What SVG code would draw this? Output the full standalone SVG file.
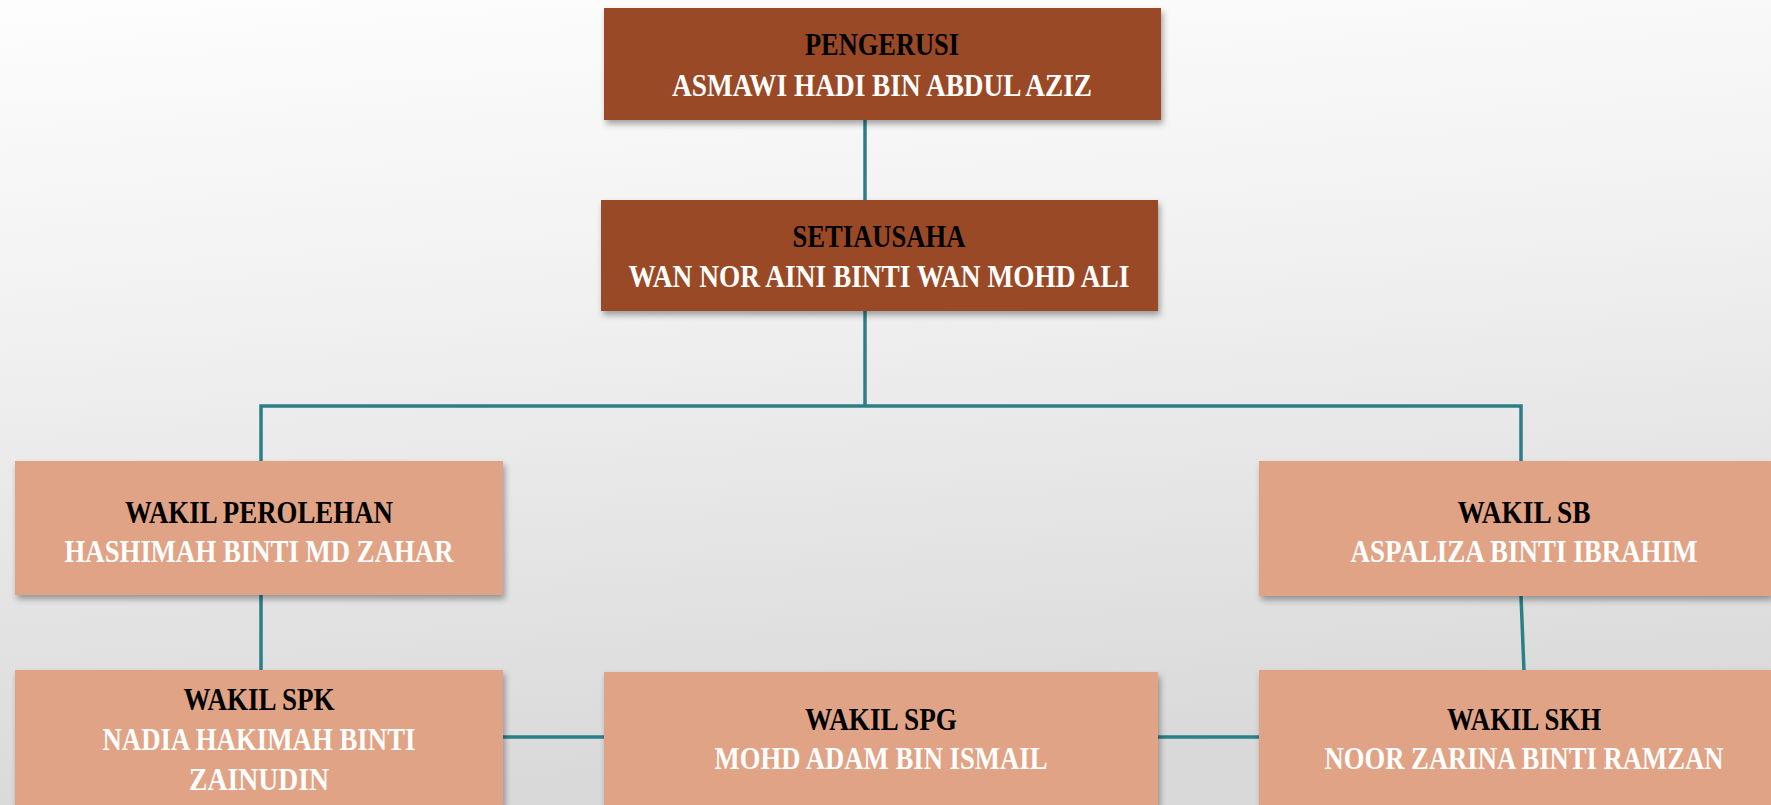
<svg xmlns="http://www.w3.org/2000/svg" width="1771" height="805" viewBox="0 0 1771 805">
  <defs>
    <linearGradient id="bg" x1="0" y1="0" x2="0.15" y2="1">
      <stop offset="0" stop-color="#fdfdfd"/>
      <stop offset="0.4" stop-color="#f1f1f1"/>
      <stop offset="1" stop-color="#d9d9d9"/>
    </linearGradient>
    <filter id="shadow" x="-10%" y="-20%" width="120%" height="150%">
      <feDropShadow dx="2" dy="4" stdDeviation="3" flood-color="#000" flood-opacity="0.35"/>
    </filter>
  </defs>
  <style>
    .dark { fill: #9a4a25; filter: url(#shadow); }
    .light { fill: #e1a385; filter: url(#shadow); }
    .conn { stroke: #2b7f87; stroke-width: 3.5; fill: none; }
    .t { font-family: "Liberation Serif", "Times New Roman", serif; font-weight: bold; font-size: 32px; text-anchor: middle; }
    .title { fill: #000; }
    .name { fill: #fff; }
  </style>
  <rect x="0" y="0" width="1771" height="805" fill="url(#bg)"/>

  <g id="connectors">
    <line class="conn" x1="865" y1="120" x2="865" y2="200"/>
    <line class="conn" x1="865" y1="311" x2="865" y2="406"/>
    <polyline class="conn" points="261,462 261,406 1521,406 1521,462"/>
    <line class="conn" x1="261" y1="595" x2="261" y2="671"/>
    <line class="conn" x1="1521" y1="596" x2="1524" y2="671"/>
    <line class="conn" x1="503" y1="737" x2="604" y2="737"/>
    <line class="conn" x1="1158" y1="737" x2="1260" y2="737"/>
  </g>

  <g id="pengerusi">
    <rect class="dark" x="604" y="8" width="557" height="112"/>
    <text class="t title" x="882" y="55" textLength="154" lengthAdjust="spacingAndGlyphs">PENGERUSI</text>
    <text class="t name" x="882" y="96" textLength="420" lengthAdjust="spacingAndGlyphs">ASMAWI HADI BIN ABDUL AZIZ</text>
  </g>

  <g id="setiausaha">
    <rect class="dark" x="601" y="200" width="557" height="111"/>
    <text class="t title" x="879" y="247" textLength="173" lengthAdjust="spacingAndGlyphs">SETIAUSAHA</text>
    <text class="t name" x="879" y="287" textLength="501" lengthAdjust="spacingAndGlyphs">WAN NOR AINI BINTI WAN MOHD ALI</text>
  </g>

  <g id="wakil-perolehan">
    <rect class="light" x="15" y="461" width="488" height="134"/>
    <text class="t title" x="259" y="523" textLength="268" lengthAdjust="spacingAndGlyphs">WAKIL PEROLEHAN</text>
    <text class="t name" x="259" y="562" textLength="389" lengthAdjust="spacingAndGlyphs">HASHIMAH BINTI MD ZAHAR</text>
  </g>

  <g id="wakil-sb">
    <rect class="light" x="1259" y="461" width="512" height="135"/>
    <text class="t title" x="1524" y="523" textLength="133" lengthAdjust="spacingAndGlyphs">WAKIL SB</text>
    <text class="t name" x="1524" y="562" textLength="347" lengthAdjust="spacingAndGlyphs">ASPALIZA BINTI IBRAHIM</text>
  </g>

  <g id="wakil-spk">
    <rect class="light" x="15" y="670" width="488" height="135"/>
    <text class="t title" x="259" y="710" textLength="151" lengthAdjust="spacingAndGlyphs">WAKIL SPK</text>
    <text class="t name" x="259" y="750" textLength="313" lengthAdjust="spacingAndGlyphs">NADIA HAKIMAH BINTI</text>
    <text class="t name" x="259" y="790" textLength="140" lengthAdjust="spacingAndGlyphs">ZAINUDIN</text>
  </g>

  <g id="wakil-spg">
    <rect class="light" x="604" y="672" width="554" height="133"/>
    <text class="t title" x="881" y="730" textLength="152" lengthAdjust="spacingAndGlyphs">WAKIL SPG</text>
    <text class="t name" x="881" y="769" textLength="333" lengthAdjust="spacingAndGlyphs">MOHD ADAM BIN ISMAIL</text>
  </g>

  <g id="wakil-skh">
    <rect class="light" x="1259" y="670" width="512" height="135"/>
    <text class="t title" x="1524" y="730" textLength="154" lengthAdjust="spacingAndGlyphs">WAKIL SKH</text>
    <text class="t name" x="1524" y="769" textLength="399" lengthAdjust="spacingAndGlyphs">NOOR ZARINA BINTI RAMZAN</text>
  </g>
</svg>
